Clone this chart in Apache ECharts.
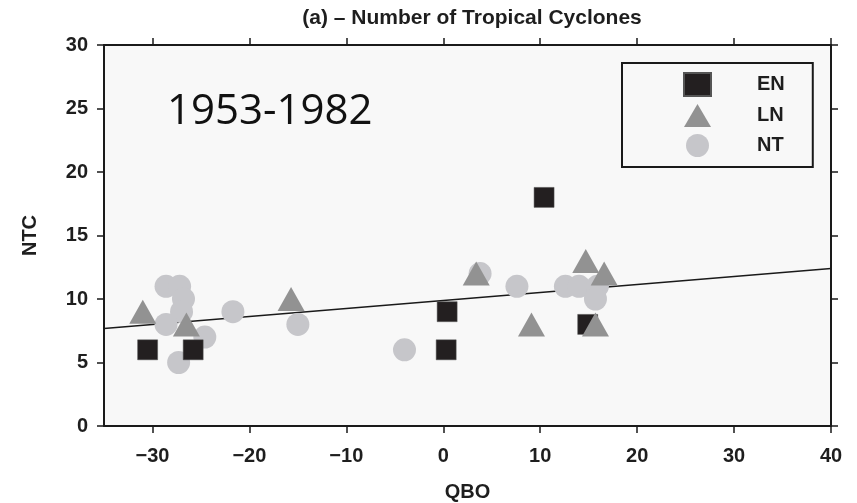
<!DOCTYPE html>
<html>
<head>
<meta charset="utf-8">
<script src="https://cdn.jsdelivr.net/npm/echarts@6/dist/echarts.min.js"></script>
<style>
html,body{margin:0;padding:0;background:#ffffff;}
#c{width:857px;height:503px;}
</style>
</head>
<body>
<div id="c"></div>
<script>
// ---- data ----
var enX = [-30.5, -25.8, 0.4, 0.3, 10.4, 14.9];
var enY = [6, 6, 9, 6, 18, 8];
var lnX = [-31, -26.5, -15.7, 3.4, 9.1, 14.7, 16.6, 15.7];
var lnY = [9, 8, 10, 12, 8, 13, 12, 8];
var ntX = [-28.6, -27.2, -26.8, -27.0, -28.6, -24.6, -27.3, -21.7, -15.0, -4.0, 3.8, 7.6, 12.6, 14.0, 15.9, 15.7];
var ntY = [11, 11, 10, 9, 8, 7, 5, 9, 8, 6, 12, 11, 11, 11, 11, 10];
var trendX = [-35, 40];
var trendY = [7.67, 12.4];
var xTicks = [-30, -20, -10, 0, 10, 20, 30, 40];

function pairs(xs, ys){ return xs.map(function(x,i){ return [x, ys[i]]; }); }

var chart = echarts.init(document.getElementById('c'), null, {renderer:'canvas'});
var FONT = '"Liberation Sans", Arial, sans-serif';
var axisLine = {show:true, onZero:false, lineStyle:{color:'#1a1a1a', width:2}};
var tick = {show:true, inside:false, length:7, lineStyle:{color:'#1a1a1a', width:1.5}};
var lblStyle = {fontFamily:FONT, fontWeight:'bold', fontSize:20, color:'#1e1e1e'};

chart.setOption({
  animation:false,
  backgroundColor:'#ffffff',
  title:{
    text:'(a) – Number of Tropical Cyclones',
    left:467, top:3, textAlign:'center',
    textStyle:{fontFamily:FONT, fontWeight:'bold', fontSize:21, color:'#1e1e1e'}
  },
  grid:{left:104, top:45, width:727, height:381, outerBoundsMode:'none', containLabel:false,
        show:true, backgroundColor:'#f8f8f8', borderWidth:0},
  legend:{
    orient:'vertical',
    left:622, top:63,
    data:['EN','LN','NT'],
    itemWidth:27, itemHeight:23, itemGap:7,
    padding:[9, 28, 10, 61],
    borderColor:'#1a1a1a', borderWidth:2,
    backgroundColor:'#f8f8f8',
    textStyle:{fontFamily:FONT, fontWeight:'bold', fontSize:20, color:'#1e1e1e', padding:[0,0,0,41]}
  },
  xAxis:[{
    type:'value', min:-35, max:40, position:'bottom',
    name:'QBO', nameLocation:'middle', nameGap:56,
    nameTextStyle:{fontFamily:FONT, fontWeight:'bold', fontSize:20, color:'#1e1e1e'},
    axisLine:axisLine,
    axisTick:Object.assign({customValues:xTicks}, tick),
    axisLabel:Object.assign({customValues:xTicks, margin:20,
      formatter:function(v){ return v<0 ? '\u2212'+Math.abs(v) : String(v); }}, lblStyle),
    splitLine:{show:false}
  },{
    type:'value', min:-35, max:40, position:'top',
    axisLine:axisLine,
    axisTick:Object.assign({customValues:xTicks}, tick),
    axisLabel:{show:false},
    splitLine:{show:false}
  }],
  yAxis:[{
    type:'value', min:0, max:30, interval:5, position:'left',
    name:'NTC', nameLocation:'middle', nameGap:64, nameRotate:90,
    nameTextStyle:{fontFamily:FONT, fontWeight:'bold', fontSize:20, color:'#1e1e1e'},
    axisLine:axisLine, axisTick:tick,
    axisLabel:Object.assign({margin:16}, lblStyle),
    splitLine:{show:false}
  },{
    type:'value', min:0, max:30, interval:5, position:'right',
    axisLine:axisLine, axisTick:tick,
    axisLabel:{show:false},
    splitLine:{show:false}
  }],
  graphic:[{
    type:'text', x:167, y:112,
    style:{text:'1953-1982', font:'normal 42px "Open Sans", "Liberation Sans", sans-serif', fill:'#111111', verticalAlign:'middle'}
  }],
  series:[
    {name:'trend', type:'line', data:pairs(trendX, trendY), showSymbol:false, symbol:'none',
     lineStyle:{color:'#1a1a1a', width:1.5}, z:1, silent:true},
    {name:'NT', type:'scatter', data:pairs(ntX, ntY), symbol:'circle', symbolSize:23,
     itemStyle:{color:'#c6c6ca', opacity:1}, z:2},
    {name:'EN', type:'scatter', data:pairs(enX, enY), symbol:'rect', symbolSize:20,
     itemStyle:{color:'#231f20', borderColor:'#555', borderWidth:0.5, opacity:1}, z:3},
    {name:'LN', type:'scatter', data:pairs(lnX, lnY), symbol:'triangle', symbolSize:[27,24],
     itemStyle:{color:'#929292', opacity:1}, z:4}
  ]
});
</script>
</body>
</html>
